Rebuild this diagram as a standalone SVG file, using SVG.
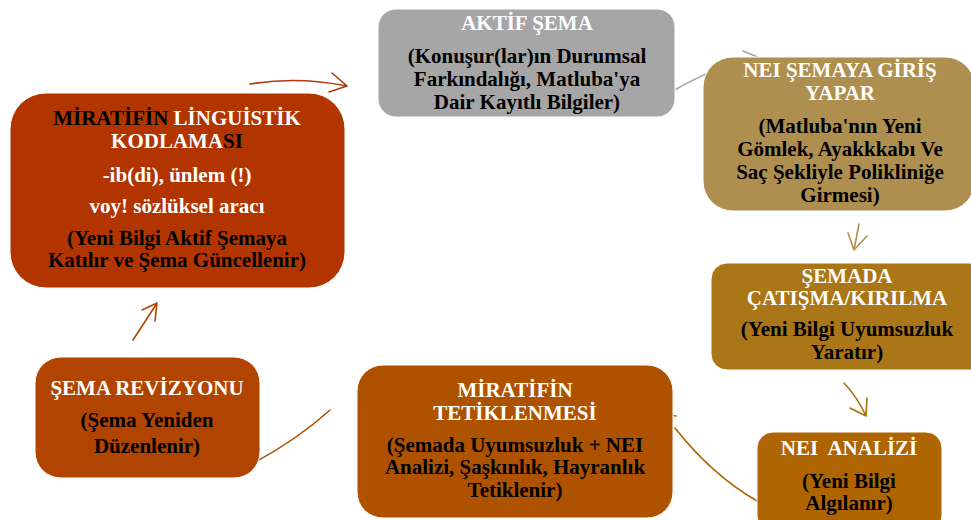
<svg xmlns="http://www.w3.org/2000/svg" width="971" height="520" viewBox="0 0 971 520">
<style>
text{font-family:"Liberation Serif","Times New Roman",serif;font-weight:bold;font-size:21px;text-anchor:middle}
.w{fill:#ffffff}
.k{fill:#000000}
.box{stroke:#ffffff;stroke-width:1}
.c{fill:none;stroke-width:1.6;stroke-linecap:round;stroke-linejoin:round}
</style>
<rect width="971" height="520" fill="#ffffff"/>
<g id="connectors">
<path class="c" stroke="#B23A0E" d="M250,84 Q298,76 347,86 M332,73 L347,86 L329,92"/>
<path class="c" stroke="#A6A6A6" d="M673,91 Q715,66 760,58 M743,51 L760,58 L746,70"/>
<path class="c" stroke="#AF8F50" d="M859,224 L854,250 M848,233 L854,250 L867,236"/>
<path class="c" stroke="#A5730F" d="M844,383 Q858,398 866,416 M867,398 L866,416 L850,408"/>
<path class="c" stroke="#AE6200" d="M757,501 Q712,475 675,428 M676,416 L666,414 L672,430"/>
<path class="c" stroke="#AF5200" d="M330,410 Q297,440 250,465 M255,452 L250,465 L240,470"/>
<path class="c" stroke="#B04400" d="M133,340 L157,303 M142,310 L157,303 L155,321"/>
</g>
<g id="node-linguistik">
<rect class="box" x="10" y="93" width="335" height="195" rx="36" fill="#B23500"/>
<text x="177" y="125"><tspan class="k">MİRATİFİN </tspan><tspan class="w">LİNGUİSTİK</tspan></text>
<text x="177" y="148"><tspan class="w">KODLAMA</tspan><tspan class="k">SI</tspan></text>
<text x="177" y="182" class="w">-ib(di), ünlem (!)</text>
<text x="177" y="213" class="w">voy! sözlüksel aracı</text>
<text x="177" y="245" class="k">(Yeni Bilgi Aktif Şemaya</text>
<text x="177" y="267" class="k">Katılır ve Şema Güncellenir)</text>
</g>
<g id="node-aktif">
<rect class="box" x="378" y="9" width="297" height="108" rx="18" fill="#A6A6A6"/>
<text x="527" y="30" class="w">AKTİF ŞEMA</text>
<text x="527" y="63" class="k">(Konuşur(lar)ın Durumsal</text>
<text x="527" y="86" class="k">Farkındalığı, Matluba'ya</text>
<text x="527" y="109" class="k">Dair Kayıtlı Bilgiler)</text>
</g>
<g id="node-nei-giris">
<rect class="box" x="703" y="57" width="272" height="154" rx="30" fill="#AF8F50"/>
<text x="840" y="77" class="w">NEI ŞEMAYA GİRİŞ</text>
<text x="840" y="100" class="w">YAPAR</text>
<text x="840" y="133" class="k">(Matluba'nın Yeni</text>
<text x="840" y="156" class="k">Gömlek, Ayakkkabı Ve</text>
<text x="840" y="179" class="k">Saç Şekliyle Polikliniğe</text>
<text x="840" y="202" class="k">Girmesi)</text>
</g>
<g id="node-catisma">
<rect class="box" x="711" y="263" width="275" height="107" rx="16" fill="#AA7617"/>
<text x="847" y="283" class="w">ŞEMADA</text>
<text x="847" y="305" class="w">ÇATIŞMA/KIRILMA</text>
<text x="847" y="336" class="k">(Yeni Bilgi Uyumsuzluk</text>
<text x="847" y="359" class="k">Yaratır)</text>
</g>
<g id="node-nei-analizi">
<rect class="box" x="757" y="432" width="185" height="100" rx="16" fill="#AE6500"/>
<text x="849" y="455" class="w" xml:space="preserve">NEI  ANALİZİ</text>
<text x="849" y="488" class="k">(Yeni Bilgi</text>
<text x="849" y="510" class="k">Algılanır)</text>
</g>
<g id="node-tetiklenmesi">
<rect class="box" x="357" y="365" width="316" height="153" rx="26" fill="#AF5200"/>
<text x="515" y="397" class="w">MİRATİFİN</text>
<text x="515" y="420" class="w">TETİKLENMESİ</text>
<text x="515" y="452" class="k">(Şemada Uyumsuzluk + NEI</text>
<text x="515" y="474" class="k">Analizi, Şaşkınlık, Hayranlık</text>
<text x="515" y="497" class="k">Tetiklenir)</text>
</g>
<g id="node-revizyon">
<rect class="box" x="35" y="357" width="225" height="121" rx="26" fill="#B04400"/>
<text x="147" y="395" class="w">ŞEMA REVİZYONU</text>
<text x="147" y="427" class="k">(Şema Yeniden</text>
<text x="147" y="453" class="k">Düzenlenir)</text>
</g>
</svg>
